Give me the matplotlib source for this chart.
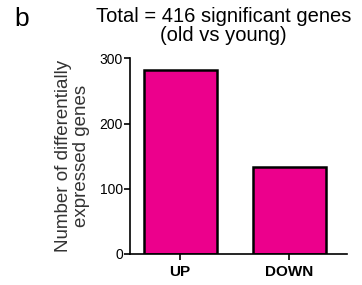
import matplotlib
matplotlib.use('Agg')
import matplotlib.pyplot as plt

categories = ['UP', 'DOWN']
counts = [283, 133]
yticks = [0, 100, 200, 300]

plt.rcParams['font.family'] = ['Liberation Sans', 'DejaVu Sans']

fig = plt.figure(figsize=(3.62, 2.85), dpi=100)
ax = fig.add_axes([0.359, 0.109, 0.599, 0.686])

x = range(len(categories))
ax.bar(x, counts, 0.67, color='#ec008c', edgecolor='black', linewidth=1.8)

ax.set_xlim(-0.46, 1.527)
ax.set_ylim(0, 300)
ax.set_yticks(yticks)
ax.set_xticks(list(x))
ax.set_xticklabels(categories, fontweight='bold', fontsize=11)
ax.tick_params(axis='y', labelsize=10, length=4, width=1.2, pad=1)
ax.tick_params(axis='x', length=4, width=1.2, pad=4)

for s in ['top', 'right']:
    ax.spines[s].set_visible(False)
for s in ['left', 'bottom']:
    ax.spines[s].set_linewidth(1.2)

# y label placed by hand so both lines sit where the original has them
fig.text(0.2, 0.453, 'Number of differentially\nexpressed genes', rotation=90,
         ha='center', va='center', fontsize=13.5, linespacing=1.05, color='#333333')

fig.text(0.617, 0.975, 'Total = 416 significant genes\n(old vs young)', ha='center', va='top',
         fontsize=14.5, linespacing=1.0)
fig.text(0.04, 0.975, 'b', ha='left', va='top', fontsize=19)

fig.savefig('out.png', dpi=100)
